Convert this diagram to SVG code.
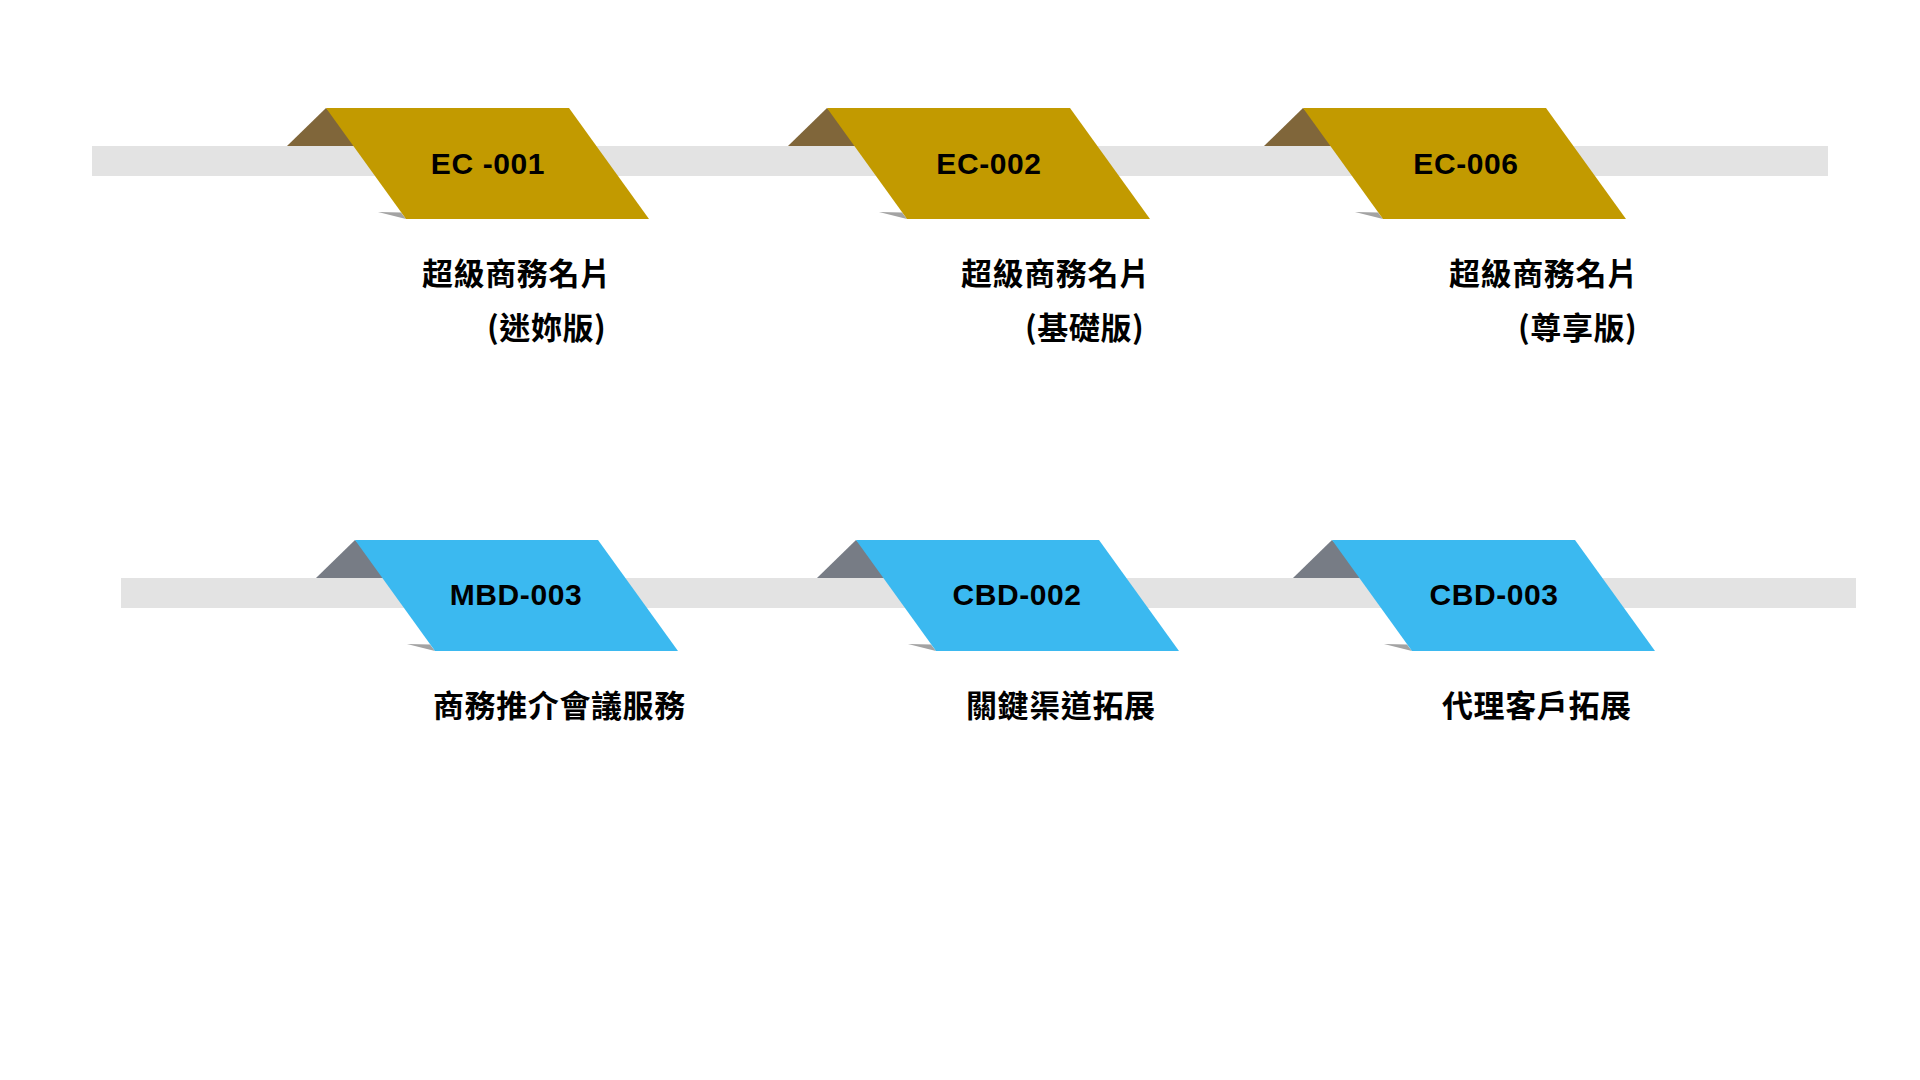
<svg xmlns="http://www.w3.org/2000/svg" width="1920" height="1080" viewBox="0 0 1920 1080">
<style>
.bar{fill:#e3e3e3}
.gold{fill:#c29a00}
.goldfold{fill:#80663a}
.blue{fill:#3bb9f0}
.bluefold{fill:#777c85}
.shadow{fill:#a3a3a3}
.code{font-family:"Liberation Sans",Arial,sans-serif;font-weight:700;font-size:30px;letter-spacing:0.6px;fill:#000;text-anchor:middle}
.label{font-family:"Noto Sans CJK TC","Noto Sans CJK SC",sans-serif;font-weight:700;font-size:31px;letter-spacing:0.6px;fill:#000}
</style>
<defs>
<g id="goldTab">
<polygon class="goldfold" points="-39,38 0,0 40,38"/>
<polygon class="shadow" points="52,104 75,104.5 80,111"/>
<polygon class="gold" points="0,0 243,0 323,111 80,111"/>
</g>
<g id="blueTab">
<polygon class="bluefold" points="-39,38 0,0 40,38"/>
<polygon class="shadow" points="52,104 75,104.5 80,111"/>
<polygon class="blue" points="0,0 243,0 323,111 80,111"/>
</g>
</defs>
<rect width="1920" height="1080" fill="#ffffff"/>
<g id="connectors">
<rect class="bar" x="92" y="146" width="1736" height="30"/>
<rect class="bar" x="121" y="578" width="1735" height="30"/>
</g>
<g id="ec001">
<use href="#goldTab" x="326" y="108"/>
<text class="code" x="488" y="174">EC -001</text>
<text class="label" x="422" y="285">超級商務名片</text>
<text class="label" x="487" y="339">(迷妳版)</text>
</g>
<g id="ec002">
<use href="#goldTab" x="827" y="108"/>
<text class="code" x="989" y="174">EC-002</text>
<text class="label" x="961" y="285">超級商務名片</text>
<text class="label" x="1025" y="339">(基礎版)</text>
</g>
<g id="ec006">
<use href="#goldTab" x="1303" y="108"/>
<text class="code" x="1466" y="174">EC-006</text>
<text class="label" x="1449" y="285">超級商務名片</text>
<text class="label" x="1518" y="339">(尊享版)</text>
</g>
<g id="mbd003">
<use href="#blueTab" x="355" y="540"/>
<text class="code" x="516" y="605">MBD-003</text>
<text class="label" x="433" y="717">商務推介會議服務</text>
</g>
<g id="cbd002">
<use href="#blueTab" x="856" y="540"/>
<text class="code" x="1017" y="605">CBD-002</text>
<text class="label" x="966" y="717">關鍵渠道拓展</text>
</g>
<g id="cbd003">
<use href="#blueTab" x="1332" y="540"/>
<text class="code" x="1494" y="605">CBD-003</text>
<text class="label" x="1442" y="717">代理客戶拓展</text>
</g>
</svg>
